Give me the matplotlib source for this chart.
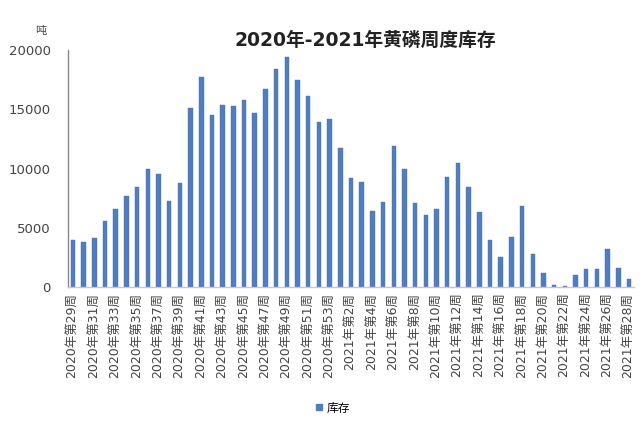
import matplotlib
matplotlib.use("Agg")
import matplotlib.pyplot as plt
from matplotlib.lines import Line2D

plt.rcParams['font.family'] = ['DejaVu Sans', 'Noto Sans CJK SC']

years = [2020] * 25 + [2021] * 28
weeks = list(range(29, 54)) + list(range(1, 29))
inventory = [4000, 3800, 4150, 5550, 6600, 7700, 8450, 10000, 9500, 7300,
             8800, 15100, 17700, 14500, 15400, 15300, 15800, 14700, 16700, 18400,
             19400, 17500, 16100, 13950, 14150, 11700, 9200, 8900, 6450, 7150,
             11900, 9950, 7100, 6100, 6600, 9300, 10500, 8450, 6300, 4000,
             2500, 4250, 6800, 2800, 1150, 170, 100, 1000, 1500, 1500,
             3200, 1600, 700]
categories = [f"{y}年第{w}周" for y, w in zip(years, weeks)]
yticks = [0, 5000, 10000, 15000, 20000]
title = "2020年-2021年黄磷周度库存"
unit = "吨"
series_name = "库存"

bar_color = "#4f7dc0"

fig = plt.figure(figsize=(6.44, 4.24), dpi=100)
ax = fig.add_axes([0.105, 0.323, 0.880, 0.559])

x = list(range(len(categories)))
ax.bar(x, inventory, width=0.42, color=bar_color, edgecolor="#4a70a8", linewidth=0.3, zorder=2)

ax.set_xlim(-0.5, len(categories) - 0.5)
ax.set_ylim(0, 20000)
ax.set_yticks(yticks)
ax.set_yticklabels([str(v) for v in yticks], fontsize=9.5, color="#444444")
ax.tick_params(axis='y', length=0, pad=12)

ax.set_xticks(x[::2])
ax.set_xticklabels(categories[::2], rotation=90, fontsize=9, color="#444444")
ax.tick_params(axis='x', length=0, pad=4)

for s in ['top', 'right']:
    ax.spines[s].set_visible(False)
ax.spines['left'].set_color("#888888")
ax.spines['left'].set_linewidth(1.0)
ax.spines['bottom'].set_color("#c0c8d8")
ax.spines['bottom'].set_linewidth(1.0)

fig.text(365 / 644, 1 - 40 / 424, title, fontsize=13.5, fontweight='bold',
         ha='center', va='center', color="#222222")
fig.text(41 / 644, 1 - 31 / 424, unit, fontsize=8, ha='center', va='center', color="#444444")

handle = Line2D([], [], marker='s', linestyle='none', markersize=5,
                markerfacecolor=bar_color, markeredgecolor=bar_color)
fig.legend([handle], [series_name], loc='center', bbox_to_anchor=(332 / 644, 1 - 408 / 424),
           frameon=False, fontsize=8.5, handletextpad=0.2, handlelength=0.8)

fig.savefig("out.png", dpi=100, facecolor="white")
